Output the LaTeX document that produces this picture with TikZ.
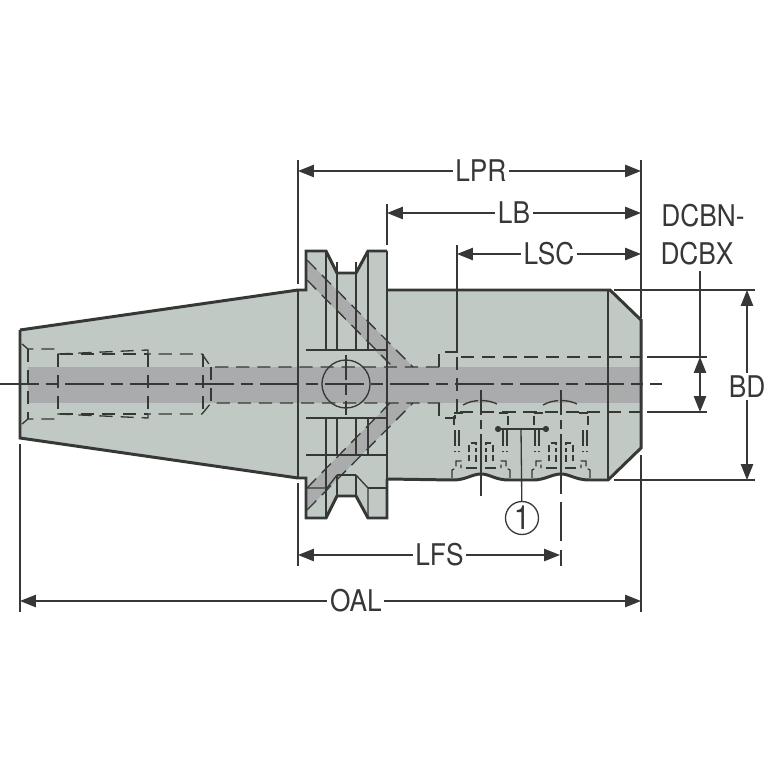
\documentclass[tikz,border=0pt]{standalone}
\usepackage{fontspec}
\setmainfont[FakeStretch=0.88]{TeX Gyre Heros}
\usetikzlibrary{arrows.meta}
\definecolor{bodygray}{HTML}{C0C9C3}
\definecolor{boregray}{HTML}{A9ABAC}
\definecolor{inkgray}{HTML}{363836}
\tikzset{
	outline/.style={draw=inkgray, line width=1.7pt, line join=miter},
	thin line/.style={draw=inkgray, line width=0.75pt},
	hidden/.style={draw=inkgray, line width=0.75pt, dash pattern=on 7.5pt off 4.5pt},
	center line/.style={draw=inkgray, line width=0.8pt, dash pattern=on 22pt off 4pt on 7pt off 4pt},
	dimline/.style={draw=inkgray, line width=0.75pt, {Triangle[length=9pt,width=7pt]}-{Triangle[length=9pt,width=7pt]}},
	leader/.style={draw=inkgray, line width=0.75pt, -{Triangle[length=9pt,width=7pt]}},
	dimtext/.style={fill=white, inner sep=1.5pt, font=\fontsize{17}{19}\selectfont, text=inkgray},
	plaintext/.style={inner sep=0pt, font=\fontsize{17}{19}\selectfont, text=inkgray},
}
\begin{document}
\begin{tikzpicture}[x=0.02cm, y=-0.02cm]
	\useasboundingbox (0,0) rectangle (767,767);

	% body
	\fill [bodygray] (20,330) -- (298,290) -- (306,290) -- (306,251) -- (326,251) -- (337,273) -- (356,273) -- (368,251) -- (387,251) -- (387,290) -- (610,290) -- (641,320) -- (641,448) -- (608,480) -- (590,480) .. controls (575,480) and (570,474) .. (561,474) .. controls (552,474) and (545,480) .. (533,480) -- (509,480) .. controls (495,480) and (490,474) .. (481,474) .. controls (472,474) and (466,480) .. (453,480) -- (387,479) -- (387,518) -- (368,518) -- (356,496) -- (337,496) -- (326,518) -- (306,518) -- (306,478) -- (298,478) -- (20,438) -- cycle;

	% bore and the two coolant channels
	\fill [boregray] (28,367) rectangle (640,403);
	\fill [boregray] (307,260) -- (413,367) -- (391,367) -- (307,280) -- cycle;
	\fill [boregray] (307,488) -- (390,403) -- (413,403) -- (307,510) -- cycle;

	% flange
	\foreach \xa in {326,337,356,368} {
		\draw [thin line] (\xa,262) -- (\xa,350);
		\draw [thin line] (\xa,418) -- (\xa,455);
	}
	\draw [thin line] (306,350) -- (387,350);
	\draw [thin line] (306,418) -- (387,418);
	\draw [thin line] (306,455) -- (387,455);
	\draw [thin line] (307,488) -- (327,488) -- (337,475);
	\draw [thin line] (326,455) -- (326,518);
	\draw [thin line] (337,475) -- (337,496);
	\draw [thin line] (337,475) -- (356,475);
	\draw [thin line] (356,475) -- (356,496);
	\draw [thin line] (356,475) -- (368,488) -- (368,518);
	\draw [thin line] (368,488) -- (387,488);
	\draw [thin line] (326,251) -- (326,262);
	\draw [thin line] (368,251) -- (368,262);
	\draw [thin line] (387,251) -- (387,518);
	\draw [thin line] (298,290) -- (298,478);
	\draw [thin line] (608,290) -- (608,480);
	\draw [thin line] (346,384) circle (24);
	\draw [thin line, dash pattern=on 14pt off 3pt on 6pt off 3pt] (346,355) -- (346,415);

	% hidden lines, taper end
	\draw [hidden] (22,344) -- (28,349) -- (58,349) -- (58,354) -- (148,350) -- (148,354) -- (202,354) -- (211,367) -- (440,367);
	\draw [hidden] (22,424) -- (28,419) -- (58,419) -- (58,414) -- (148,418) -- (148,414) -- (202,414) -- (211,403) -- (440,403);
	\draw [hidden] (60,354) -- (148,354);
	\draw [hidden] (60,414) -- (148,414);
	\foreach \xa/\ya in {28/349,58/354,148/354,203/354,211/367} {
		\draw [hidden] (\xa,\ya) -- (\xa,768-\ya);
	}

	% hidden lines, channels
	\draw [hidden] (307,260) -- (413,367);
	\draw [hidden] (307,280) -- (391,365);
	\draw [hidden] (307,488) -- (390,403);
	\draw [hidden] (307,510) -- (413,403);

	% hidden lines, front pocket
	\draw [hidden] (439,367) -- (439,352) -- (457,352) -- (457,357) -- (642,357);
	\draw [hidden] (439,403) -- (439,418) -- (455,418) -- (455,412) -- (642,412);
	\draw [hidden] (457,357) -- (457,420);

	% the two cross holes
	\foreach \xb in {481,561} {
		\begin{scope}[xshift=\xb*0.02cm]
			\draw [hidden, dash pattern=on 9pt off 2pt] (-18,405) .. controls (-8,399) and (8,399) .. (18,405);
			\draw [thin line, dash pattern=on 14pt off 3pt on 5pt off 3pt] (0,390) -- (0,455);
			\foreach \sg in {-1,1} {
				\draw [hidden, dash pattern=on 5pt off 2pt] (\sg*18,413) -- (\sg*27,413) -- (\sg*27,425);
				\draw [hidden, dash pattern=on 9pt off 3pt] (\sg*26,430) -- (\sg*26,452);
				\draw [hidden, dash pattern=on 9pt off 3pt] (\sg*22,430) -- (\sg*22,452);
				\draw [hidden, dash pattern=on 4pt off 2pt] (\sg*12,452) -- (\sg*12,443) -- (\sg*5,443) -- (\sg*5,452);
				\draw [hidden, dash pattern=on 4pt off 2pt] (\sg*12,455) -- (\sg*12,461);
				\draw [hidden, dash pattern=on 4pt off 2pt] (\sg*5,455) -- (\sg*5,461) -- (0,461);
				\draw [hidden, dash pattern=on 6pt off 2pt] (\sg*29,478) -- (\sg*29,470) -- (\sg*25,468) -- (\sg*25,461) -- (\sg*20,461) -- (\sg*20,468);
				\draw [hidden, dash pattern=on 6pt off 3pt] (\sg*15,468) -- (\sg*3,468);
			}
		\end{scope}
	}

	% centre line
	\draw [center line] (0,384) -- (662,384);

	% outline
	\draw [outline] (387,290) -- (610,290) -- (641,320) -- (641,448) -- (608,480) -- (590,480) .. controls (575,480) and (570,474) .. (561,474) .. controls (552,474) and (545,480) .. (533,480) -- (509,480) .. controls (495,480) and (490,474) .. (481,474) .. controls (472,474) and (466,480) .. (453,480) -- (387,479);
	\draw [outline] (20,330) -- (298,290) -- (306,290) -- (306,251) -- (326,251) -- (337,273) -- (356,273) -- (368,251) -- (387,251);
	\draw [outline] (20,330) -- (20,438) -- (298,478) -- (306,478) -- (306,518) -- (326,518) -- (337,496) -- (356,496) -- (368,518) -- (387,518) -- (387,479);

	% extension lines
	\coordinate (lprL) at (298,171);
	\coordinate (lprR) at (641,171);
	\coordinate (lbL) at (387,213);
	\coordinate (lbR) at (641,213);
	\coordinate (lscL) at (457,254);
	\coordinate (lscR) at (641,254);
	\coordinate (lfsL) at (298,555);
	\coordinate (lfsR) at (560,555);
	\coordinate (oalL) at (20,601);
	\coordinate (oalR) at (641,601);
	\coordinate (bdT) at (747,290);
	\coordinate (bdB) at (747,480);
	\coordinate (dcT) at (700,357);
	\coordinate (dcB) at (700,412);
	\draw [thin line] (298,160) -- (298,284);
	\draw [thin line] (298,483) -- (298,566);
	\draw [thin line] (387,204) -- (387,245);
	\draw [thin line] (457,245) -- (457,352);
	\draw [thin line] (641,160) -- (641,318);
	\draw [thin line] (641,455) -- (641,612);
	\draw [thin line] (20,444) -- (20,612);
	\draw [thin line] (481,455) -- (481,496);
	\draw [thin line, dash pattern=on 22pt off 5pt] (561,455) -- (561,566);
	\draw [thin line] (614,290) -- (755,290);
	\draw [thin line] (614,480) -- (755,480);
	\draw [thin line] (647,357) -- (707,357);
	\draw [thin line] (647,412) -- (707,412);

	% dimensions
	\draw [dimline] (lprL) -- (lprR) node [dimtext, pos=0.533] (lprtxt) {LPR};
	\draw [dimline] (lbL) -- (lbR) node [dimtext, pos=0.50] (lbtxt) {LB};
	\draw [dimline] (lscL) -- (lscR) node [dimtext, pos=0.50] (lsctxt) {LSC};
	\draw [dimline] (lfsL) -- (lfsR) node [dimtext, pos=0.54] (lfstxt) {LFS};
	\draw [dimline] (oalL) -- (oalR) node [dimtext, pos=0.541] (oaltxt) {OAL};
	\draw [dimline] (bdT) -- (bdB) node [dimtext, pos=0.51] (bdtxt) {BD};
	\node [plaintext] (dcbn) at (703,216) {DCBN-};
	\node [plaintext] (dcbx) at (697,254) {DCBX};
	\coordinate (dcMid) at (700,385);
	\draw [thin line] (dcbx.south -| dcT) ++(0,5) -- (dcT);
	\draw [leader] (dcMid) -- (dcT);
	\draw [leader] (dcMid) -- (dcB);

	% item callout
	\node [draw=inkgray, line width=0.75pt, circle, minimum size=33*0.02cm, inner sep=0pt, font=\fontsize{19}{20}\selectfont, text=inkgray] (item) at (522,518) {1};
	\coordinate (barL) at (495,429);
	\coordinate (barR) at (549,429);
	\coordinate (barM) at (521,429);
	\draw [thin line, {Circle[length=3.5pt]}-{Circle[length=3.5pt]}] (barL) -- (barR);
	\draw [thin line] (barM) -- (item);
\end{tikzpicture}
\end{document}
